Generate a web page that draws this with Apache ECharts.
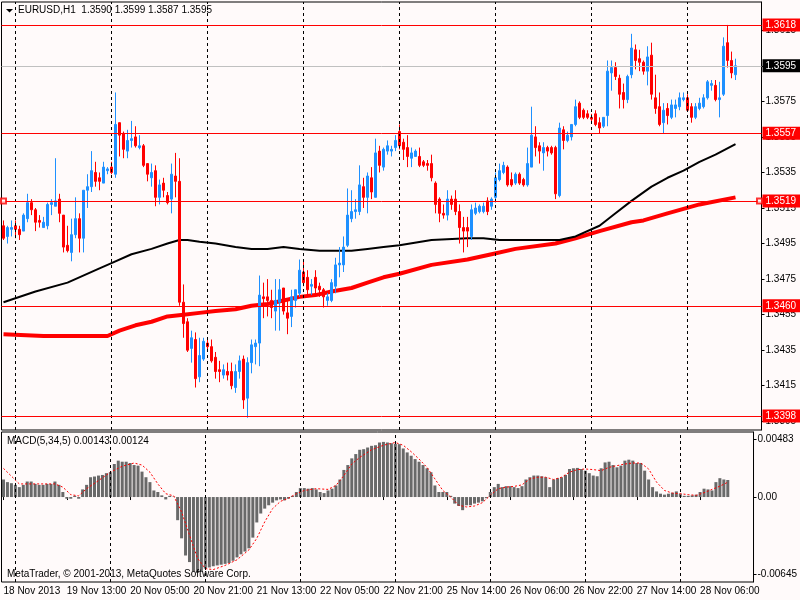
<!DOCTYPE html>
<html lang="en">
<head>
<meta charset="UTF-8">
<title>EURUSD,H1</title>
<script src="https://cdn.jsdelivr.net/npm/echarts@6/dist/echarts.min.js"></script>
<style>
    html, body { margin: 0; padding: 0; background: #FFFAFA; }
    #main { width: 800px; height: 600px; }
</style>
</head>
<body>
<div id="main"></div>
<script>
// EURUSD H1 bars, 18 Nov 21:00 .. 28 Nov 12:00
var open = [
    1.3505, 1.3499, 1.3503, 1.3505, 1.3503, 1.3502, 1.3509, 1.3518, 1.3514, 1.3508,
    1.3504, 1.3505, 1.3517, 1.3516, 1.3520, 1.3511, 1.3494, 1.3490, 1.3500, 1.3509,
    1.3498, 1.3525, 1.3527, 1.3535, 1.3532, 1.3529, 1.3536, 1.3538, 1.3534, 1.3563,
    1.3557, 1.3547, 1.3553, 1.3555, 1.3549, 1.3550, 1.3540, 1.3532, 1.3536, 1.3521,
    1.3529, 1.3522, 1.3520, 1.3533, 1.3530, 1.3462, 1.3451, 1.3436, 1.3441, 1.3420,
    1.3430, 1.3439, 1.3437, 1.3431, 1.3424, 1.3421, 1.3423, 1.3423, 1.3414, 1.3423,
    1.3430, 1.3408, 1.3428, 1.3437, 1.3439, 1.3465, 1.3465, 1.3463, 1.3457, 1.3462,
    1.3470, 1.3456, 1.3454, 1.3463, 1.3467, 1.3479, 1.3476, 1.3471, 1.3476, 1.3471,
    1.3469, 1.3463, 1.3463, 1.3471, 1.3483, 1.3483, 1.3494, 1.3509, 1.3513, 1.3513,
    1.3527, 1.3521, 1.3532, 1.3521, 1.3547, 1.3538, 1.3547, 1.3547, 1.3549, 1.3558,
    1.3552, 1.3549, 1.3543, 1.3544, 1.3544, 1.3541, 1.3540, 1.3540, 1.3529, 1.3520,
    1.3512, 1.3511, 1.3520, 1.3520, 1.3513, 1.3504, 1.3504, 1.3499, 1.3512, 1.3513,
    1.3513, 1.3519, 1.3516, 1.3521, 1.3531, 1.3535, 1.3538, 1.3531, 1.3529, 1.3534,
    1.3531, 1.3528, 1.3538, 1.3555, 1.3550, 1.3546, 1.3549, 1.3549, 1.3549, 1.3522,
    1.3559, 1.3553, 1.3555, 1.3562, 1.3574, 1.3570, 1.3568, 1.3566, 1.3568, 1.3563,
    1.3561, 1.3567, 1.3591, 1.3594, 1.3588, 1.3580, 1.3576, 1.3590, 1.3604, 1.3599,
    1.3597, 1.3592, 1.3601, 1.3577, 1.3572, 1.3563, 1.3571, 1.3566, 1.3571, 1.3572,
    1.3576, 1.3577, 1.3572, 1.3566, 1.3571, 1.3572, 1.3577, 1.3584, 1.3584, 1.3576,
    1.3579, 1.3608, 1.3598, 1.3590
];
var high = [
    1.3508, 1.3505, 1.3508, 1.3508, 1.3505, 1.3512, 1.3523, 1.3520, 1.3515, 1.3511,
    1.3510, 1.3518, 1.3520, 1.3543, 1.3523, 1.3511, 1.3505, 1.3509, 1.3521, 1.3512,
    1.3525, 1.3534, 1.3547, 1.3541, 1.3535, 1.3541, 1.3538, 1.3541, 1.3580, 1.3563,
    1.3558, 1.3559, 1.3564, 1.3561, 1.3556, 1.3551, 1.3540, 1.3540, 1.3539, 1.3531,
    1.3532, 1.3524, 1.3540, 1.3546, 1.3543, 1.3472, 1.3453, 1.3446, 1.3445, 1.3442,
    1.3442, 1.3442, 1.3441, 1.3434, 1.3429, 1.3427, 1.3428, 1.3428, 1.3427, 1.3432,
    1.3432, 1.3431, 1.3441, 1.3441, 1.3477, 1.3473, 1.3475, 1.3469, 1.3475, 1.3475,
    1.3470, 1.3463, 1.3469, 1.3469, 1.3486, 1.3486, 1.3480, 1.3475, 1.3480, 1.3473,
    1.3470, 1.3467, 1.3475, 1.3487, 1.3493, 1.3499, 1.3526, 1.3525, 1.3520, 1.3539,
    1.3532, 1.3535, 1.3538, 1.3554, 1.3550, 1.3549, 1.3553, 1.3550, 1.3556, 1.3562,
    1.3554, 1.3556, 1.3549, 1.3548, 1.3549, 1.3542, 1.3542, 1.3545, 1.3530, 1.3521,
    1.3517, 1.3525, 1.3522, 1.3525, 1.3517, 1.3510, 1.3510, 1.3517, 1.3518, 1.3517,
    1.3518, 1.3521, 1.3521, 1.3535, 1.3540, 1.3541, 1.3539, 1.3535, 1.3535, 1.3535,
    1.3532, 1.3549, 1.3572, 1.3561, 1.3552, 1.3552, 1.3550, 1.3550, 1.3550, 1.3563,
    1.3561, 1.3558, 1.3562, 1.3576, 1.3575, 1.3571, 1.3570, 1.3568, 1.3570, 1.3566,
    1.3566, 1.3598, 1.3598, 1.3597, 1.3590, 1.3585, 1.3590, 1.3613, 1.3607, 1.3604,
    1.3598, 1.3606, 1.3608, 1.3590, 1.3580, 1.3574, 1.3574, 1.3576, 1.3576, 1.3580,
    1.3580, 1.3579, 1.3574, 1.3574, 1.3577, 1.3579, 1.3587, 1.3587, 1.3587, 1.3586,
    1.3611, 1.3618, 1.3603, 1.3599
];
var low = [
    1.3497, 1.3495, 1.3499, 1.3498, 1.3497, 1.3502, 1.3507, 1.3511, 1.3502, 1.3504,
    1.3504, 1.3503, 1.3511, 1.3516, 1.3507, 1.3490, 1.3490, 1.3485, 1.3498, 1.3490,
    1.3490, 1.3515, 1.3524, 1.3527, 1.3525, 1.3529, 1.3534, 1.3534, 1.3532, 1.3544,
    1.3543, 1.3543, 1.3549, 1.3549, 1.3548, 1.3538, 1.3530, 1.3527, 1.3516, 1.3517,
    1.3521, 1.3517, 1.3512, 1.3521, 1.3460, 1.3442, 1.3434, 1.3428, 1.3414, 1.3417,
    1.3429, 1.3434, 1.3428, 1.3419, 1.3417, 1.3419, 1.3418, 1.3413, 1.3411, 1.3419,
    1.3402, 1.3397, 1.3422, 1.3427, 1.3426, 1.3453, 1.3454, 1.3453, 1.3446, 1.3446,
    1.3455, 1.3444, 1.3448, 1.3459, 1.3465, 1.3471, 1.3466, 1.3466, 1.3466, 1.3465,
    1.3459, 1.3460, 1.3462, 1.3467, 1.3476, 1.3479, 1.3493, 1.3507, 1.3509, 1.3511,
    1.3515, 1.3512, 1.3520, 1.3521, 1.3535, 1.3536, 1.3545, 1.3544, 1.3547, 1.3548,
    1.3542, 1.3538, 1.3538, 1.3544, 1.3538, 1.3538, 1.3536, 1.3530, 1.3512, 1.3507,
    1.3509, 1.3508, 1.3514, 1.3511, 1.3495, 1.3490, 1.3493, 1.3497, 1.3511, 1.3512,
    1.3512, 1.3511, 1.3514, 1.3518, 1.3530, 1.3534, 1.3527, 1.3527, 1.3528, 1.3528,
    1.3527, 1.3527, 1.3538, 1.3544, 1.3540, 1.3536, 1.3544, 1.3545, 1.3520, 1.3521,
    1.3548, 1.3552, 1.3553, 1.3561, 1.3565, 1.3565, 1.3565, 1.3563, 1.3561, 1.3557,
    1.3560, 1.3561, 1.3581, 1.3587, 1.3571, 1.3571, 1.3574, 1.3588, 1.3593, 1.3592,
    1.3590, 1.3584, 1.3576, 1.3568, 1.3561, 1.3557, 1.3562, 1.3565, 1.3566, 1.3570,
    1.3575, 1.3569, 1.3563, 1.3565, 1.3570, 1.3571, 1.3576, 1.3581, 1.3575, 1.3566,
    1.3578, 1.3594, 1.3588, 1.3587
];
var close = [
    1.3498, 1.3504, 1.3504, 1.3503, 1.3500, 1.3511, 1.3518, 1.3514, 1.3507, 1.3507,
    1.3507, 1.3517, 1.3518, 1.3519, 1.3512, 1.3493, 1.3491, 1.3500, 1.3509, 1.3498,
    1.3525, 1.3527, 1.3536, 1.3530, 1.3530, 1.3538, 1.3537, 1.3535, 1.3562, 1.3556,
    1.3548, 1.3553, 1.3554, 1.3550, 1.3550, 1.3539, 1.3534, 1.3535, 1.3521, 1.3528,
    1.3525, 1.3518, 1.3534, 1.3530, 1.3462, 1.3450, 1.3435, 1.3442, 1.3419, 1.3432,
    1.3440, 1.3437, 1.3429, 1.3423, 1.3423, 1.3424, 1.3421, 1.3415, 1.3423, 1.3429,
    1.3407, 1.3428, 1.3438, 1.3439, 1.3466, 1.3464, 1.3463, 1.3459, 1.3463, 1.3469,
    1.3457, 1.3453, 1.3465, 1.3469, 1.3480, 1.3473, 1.3469, 1.3472, 1.3470, 1.3469,
    1.3465, 1.3465, 1.3473, 1.3483, 1.3484, 1.3493, 1.3511, 1.3513, 1.3514, 1.3528,
    1.3521, 1.3533, 1.3524, 1.3546, 1.3539, 1.3548, 1.3550, 1.3548, 1.3553, 1.3550,
    1.3548, 1.3544, 1.3546, 1.3547, 1.3539, 1.3539, 1.3539, 1.3532, 1.3517, 1.3512,
    1.3511, 1.3520, 1.3517, 1.3513, 1.3504, 1.3502, 1.3502, 1.3514, 1.3515, 1.3516,
    1.3516, 1.3513, 1.3520, 1.3532, 1.3536, 1.3539, 1.3528, 1.3528, 1.3534, 1.3529,
    1.3528, 1.3540, 1.3556, 1.3549, 1.3547, 1.3549, 1.3547, 1.3546, 1.3523, 1.3560,
    1.3553, 1.3556, 1.3562, 1.3572, 1.3566, 1.3566, 1.3566, 1.3565, 1.3562, 1.3560,
    1.3566, 1.3592, 1.3594, 1.3589, 1.3579, 1.3576, 1.3589, 1.3605, 1.3598, 1.3597,
    1.3592, 1.3600, 1.3579, 1.3571, 1.3562, 1.3570, 1.3567, 1.3573, 1.3573, 1.3577,
    1.3577, 1.3570, 1.3566, 1.3572, 1.3574, 1.3577, 1.3586, 1.3585, 1.3576, 1.3577,
    1.3606, 1.3598, 1.3591, 1.3595
];

// MACD(5,34,5) histogram, one value per bar
var macd = [
    0.00147, 0.00125, 0.00116, 0.00102, 0.00083, 0.00102, 0.0013, 0.0013, 0.0011, 0.00102,
    0.00102, 0.0011, 0.0011, 0.0013, 0.00102, 0.00042, -0.00014, -0.00014, 0.0001, -0.00014,
    0.00064, 0.00102, 0.00166, 0.00172, 0.0018, 0.00185, 0.002, 0.00208, 0.00277, 0.00305,
    0.00296, 0.00296, 0.00285, 0.00268, 0.00263, 0.00213, 0.00166, 0.00125, 0.00055, 0.00042,
    0.00014, -0.0002, 0.0001, 0.00003, -0.00194, -0.00346, -0.0049, -0.00545, -0.00623, -0.00636,
    -0.00623, -0.006, -0.0059, -0.0058, -0.00573, -0.00567, -0.0056, -0.00553, -0.00534, -0.00506,
    -0.0048, -0.00457, -0.0043, -0.0034, -0.00213, -0.00138, -0.00097, -0.00069, -0.00047, -0.00028,
    -0.0002, -0.00028, -0.00014, 0.0001, 0.00042, 0.00075, 0.00075, 0.0007, 0.00075, 0.00064,
    0.00042, 0.00033, 0.00055, 0.0007, 0.00097, 0.00147, 0.00227, 0.00268, 0.00324, 0.0036,
    0.00396, 0.00401, 0.00415, 0.00429, 0.00434, 0.00457, 0.00462, 0.00457, 0.00451, 0.00445,
    0.00443, 0.00407, 0.00374, 0.00346, 0.00318, 0.00296, 0.00268, 0.00241, 0.00208, 0.00097,
    0.00042, 0.00042, 0.00042, 0.0001, -0.00055, -0.00075, -0.0011, -0.00069, -0.00069, -0.00055,
    -0.00047, -0.00036, -0.0001, 0.00042, 0.00083, 0.0011, 0.00083, 0.00091, 0.00091, 0.00083,
    0.00075, 0.00091, 0.00147, 0.00166, 0.0018, 0.0018, 0.00174, 0.00166, 0.00083, 0.00147,
    0.00158, 0.00166, 0.00185, 0.00235, 0.00241, 0.00244, 0.00235, 0.00221, 0.002, 0.0018,
    0.00174, 0.00241, 0.0029, 0.00296, 0.00268, 0.00249, 0.00263, 0.00305, 0.00313, 0.00305,
    0.00285, 0.00285, 0.00221, 0.00147, 0.00083, 0.00047, 0.00028, 0.0002, 0.00028, 0.00036,
    0.00047, 0.00028, 0.0001, 0.0001, 0.00014, 0.0002, 0.00042, 0.0007, 0.00064, 0.00055,
    0.00125, 0.00158, 0.00147, 0.00143
];
// signal line, read at these bars
var sigIdx = [0, 4, 13, 15, 17, 19, 21, 24, 27, 30, 33, 35, 37, 39, 41, 43, 45, 47, 49, 51,
    53, 56, 59, 62, 64, 66, 68, 70, 72, 74, 76, 79, 82, 84, 86, 88, 90, 93, 96, 99,
    101, 103, 105, 107, 109, 111, 113, 115, 117, 119, 121, 123, 125, 127, 129, 131, 133, 135, 137, 139,
    141, 143, 145, 147, 149, 151, 153, 155, 157, 159, 161, 163, 165, 167, 169, 171, 173, 175, 177, 179,
    181, 183];
var sigVal = [0.0024, 0.0011, 0.0011, 0.00083, 0.0002, 0.0001, 0.0007, 0.00138, 0.00208, 0.00258,
    0.00285, 0.00268, 0.00208, 0.0011, 0.00028, 0.0001, -0.00125, -0.00318, -0.00512, -0.006,
    -0.00608, -0.00573, -0.00526, -0.00443, -0.00346, -0.00208, -0.00097, -0.00036, -0.0001, 0.00028,
    0.00055, 0.0007, 0.00064, 0.00097, 0.0018, 0.00277, 0.00332, 0.00396, 0.00434, 0.00457,
    0.00434, 0.0038, 0.00318, 0.00249, 0.00152, 0.00055, 0, -0.00069, -0.00083, -0.00075,
    -0.00047, 0.00014, 0.0007, 0.00083, 0.00089, 0.00102, 0.00152, 0.00166, 0.00166, 0.00147,
    0.00166, 0.00208, 0.0023, 0.00235, 0.0023, 0.00221, 0.00249, 0.00263, 0.00277, 0.00285,
    0.00285, 0.00235, 0.00125, 0.00055, 0.00033, 0.00028, 0.0002, 0.00014, 0.00036, 0.00064,
    0.00091, 0.00124];

// moving averages, read at these bars
var maBlackIdx = [0, 8, 16, 24, 27, 32, 37, 41, 44, 46, 49, 53, 58, 62, 66, 70, 74, 79, 83, 87,
    91, 95, 99, 107, 116, 120, 124, 129, 139, 143, 149, 153, 157, 162, 166, 170, 174, 178, 183];
var maBlackVal = [1.3462, 1.3468, 1.3473, 1.3481, 1.3484, 1.3489, 1.3492, 1.3495, 1.3497, 1.3497,
    1.3496, 1.3495, 1.3493, 1.3492, 1.3492, 1.3493, 1.3492, 1.3491, 1.3491, 1.3491,
    1.3492, 1.3493, 1.3494, 1.3497, 1.3498, 1.3498, 1.3497, 1.3497, 1.3497, 1.3499,
    1.3505, 1.3512, 1.3519, 1.3527, 1.3532, 1.3536, 1.3541, 1.3545, 1.3551];
var maRedIdx = [0, 10, 26, 29, 33, 37, 41, 45, 49, 53, 58, 62, 66, 70, 74, 78, 82, 87, 91, 95,
    99, 107, 116, 122, 128, 138, 143, 149, 157, 160, 166, 174, 183];
var maRedVal = [1.3444, 1.3443, 1.3443, 1.3446, 1.3449, 1.3451, 1.3454, 1.3455, 1.3456, 1.3457,
    1.3458, 1.3460, 1.3461, 1.3463, 1.3465, 1.3466, 1.3468, 1.3470, 1.3473, 1.3476,
    1.3478, 1.3483, 1.3486, 1.3489, 1.3492, 1.3495, 1.3498, 1.3502, 1.3507, 1.3508,
    1.3512, 1.3517, 1.3521];

var levels = [1.3618, 1.3557, 1.3519, 1.3460, 1.3398];
var lastPrice = 1.3595;
var priceTicks = [1.3395, 1.3415, 1.3435, 1.3455, 1.3475, 1.3495, 1.3515, 1.3535, 1.3555, 1.3575, 1.3595, 1.3615];
var macdTicks = [-0.00645, 0, 0.00483];
var timeIdx = [0, 16, 32, 48, 64, 80, 96, 112, 128, 144, 160, 176];
var timeText = ['18 Nov 2013', '19 Nov 13:00', '20 Nov 05:00', '20 Nov 21:00', '21 Nov 13:00', '22 Nov 05:00',
    '22 Nov 21:00', '25 Nov 14:00', '26 Nov 06:00', '26 Nov 22:00', '27 Nov 14:00', '28 Nov 06:00'];
var dayIdx = [3, 27, 51, 75, 99, 123, 147, 171];

var FONT = 'Liberation Sans';
var nSlots = 190; // 184 bars + chart shift on the right
var cats = [];
for (var i = 0; i < nSlots; i++) cats.push(i);
var candles = open.map(function (o, i) { return [o, close[i], low[i], high[i]]; });
function pairs(idx, val) {
    return idx.map(function (x, k) { return [x, val[k]]; });
}
function isTime(i) { return timeIdx.indexOf(i) >= 0; }

var dayLines = {
    silent: true, symbol: 'none', label: {show: false},
    lineStyle: {color: '#000', type: [3, 3], width: 1},
    data: dayIdx.map(function (x) { return {xAxis: x}; })
};

var levelData = levels.map(function (v) {
    return {yAxis: v, lineStyle: {color: '#FF0000', width: 1}, label: {backgroundColor: '#FF0000'}};
});
levelData.push({yAxis: lastPrice, lineStyle: {color: '#C0C0C0', width: 1}, label: {backgroundColor: '#000'}});

var chart = echarts.init(document.getElementById('main'));
var option = {
    animation: false,
    backgroundColor: '#FFFAFA',
    grid: [
        {left: 1.5, top: 2, width: 760, height: 428, show: true, borderColor: '#000', borderWidth: 1},
        {left: 1.5, top: 432, width: 760, height: 150, show: true, borderColor: '#000', borderWidth: 1}
    ],
    xAxis: [
        {type: 'category', gridIndex: 0, data: cats, show: false},
        {
            type: 'category', gridIndex: 1, data: cats,
            axisLine: {show: false},
            axisTick: {show: true, alignWithLabel: true, length: 3, interval: isTime, lineStyle: {color: '#000'}},
            axisLabel: {
                interval: isTime, align: 'left', margin: 4,
                color: '#000', fontSize: 10, fontFamily: FONT,
                formatter: function (v, i) { return timeText[timeIdx.indexOf(i)] || ''; }
            }
        }
    ],
    yAxis: [
        {
            type: 'value', gridIndex: 0, position: 'right', min: 1.33901, max: 1.36309,
            splitLine: {show: false},
            axisLine: {show: true, lineStyle: {color: '#000'}},
            axisTick: {show: true, customValues: priceTicks, length: 3, lineStyle: {color: '#000'}},
            axisLabel: {
                customValues: priceTicks, margin: 4, color: '#000', fontSize: 10, fontFamily: FONT,
                formatter: function (v) { return v.toFixed(4); }
            }
        },
        {
            type: 'value', gridIndex: 1, position: 'right', min: -0.00712, max: 0.00545,
            splitLine: {show: false},
            axisLine: {show: true, lineStyle: {color: '#000'}},
            axisTick: {show: true, customValues: macdTicks, length: 3, lineStyle: {color: '#000'}},
            axisLabel: {
                customValues: macdTicks, margin: 4, color: '#000', fontSize: 10, fontFamily: FONT,
                formatter: function (v) { return v === 0 ? '0.00' : v.toFixed(5); }
            }
        }
    ],
    series: [
        {type: 'line', xAxisIndex: 0, yAxisIndex: 0, data: [], z: 1, markLine: dayLines},
        {type: 'line', xAxisIndex: 1, yAxisIndex: 1, data: [], z: 1, markLine: dayLines},
        {
            type: 'line', xAxisIndex: 0, yAxisIndex: 0, z: 2, showSymbol: false,
            data: pairs(maRedIdx, maRedVal), lineStyle: {color: '#FF0000', width: 4}
        },
        {
            type: 'line', xAxisIndex: 0, yAxisIndex: 0, z: 2, showSymbol: false,
            data: pairs(maBlackIdx, maBlackVal), lineStyle: {color: '#000', width: 2}
        },
        {
            type: 'candlestick', xAxisIndex: 0, yAxisIndex: 0, z: 3, barWidth: 2,
            data: candles,
            itemStyle: {
                color: '#1E90FF', color0: '#FF0000',
                borderColor: '#1E90FF', borderColor0: '#FF0000', borderWidth: 1
            }
        },
        {
            type: 'line', xAxisIndex: 0, yAxisIndex: 0, data: [], z: 4, color: '#FF0000',
            markLine: {
                silent: true, symbol: 'none', precision: 4,
                lineStyle: {color: '#FF0000', width: 1, type: 'solid'},
                label: {
                    show: true, position: 'end', distance: 1, padding: [2, 4, 1, 3],
                    color: '#fff', fontSize: 10, fontFamily: FONT,
                    formatter: function (p) { return p.value.toFixed(4); }
                },
                data: levelData
            }
        },
        {
            type: 'scatter', xAxisIndex: 0, yAxisIndex: 0, z: 5, symbol: 'emptyRect', symbolSize: 5,
            data: [[0, levels[2]], [nSlots - 1, levels[2]]],
            itemStyle: {color: '#FF0000', borderWidth: 1}
        },
        {
            type: 'bar', xAxisIndex: 1, yAxisIndex: 1, z: 3, barWidth: 3,
            data: macd, itemStyle: {color: '#696969'}
        },
        {
            type: 'line', xAxisIndex: 1, yAxisIndex: 1, z: 4, showSymbol: false,
            data: pairs(sigIdx, sigVal), lineStyle: {color: '#FF0000', width: 1, type: [2, 2]}
        }
    ],
    graphic: [
        {type: 'polygon', z: 100, shape: {points: [[6, 9], [13, 9], [9.5, 12.5]]}, style: {fill: '#000'}},
        {type: 'text', z: 100, left: 18, top: 5,
            style: {text: 'EURUSD,H1  1.3590 1.3599 1.3587 1.3595', fontSize: 10, fontFamily: FONT, fill: '#000'}},
        {type: 'text', z: 100, left: 7, top: 436,
            style: {text: 'MACD(5,34,5) 0.00143 0.00124', fontSize: 10, fontFamily: FONT, fill: '#000'}},
        {type: 'text', z: 100, left: 7, top: 569,
            style: {text: 'MetaTrader, \u00a9 2001-2013, MetaQuotes Software Corp.', fontSize: 10, fontFamily: FONT, fill: '#000'}}
    ]
};
chart.setOption(option);
</script>
</body>
</html>
